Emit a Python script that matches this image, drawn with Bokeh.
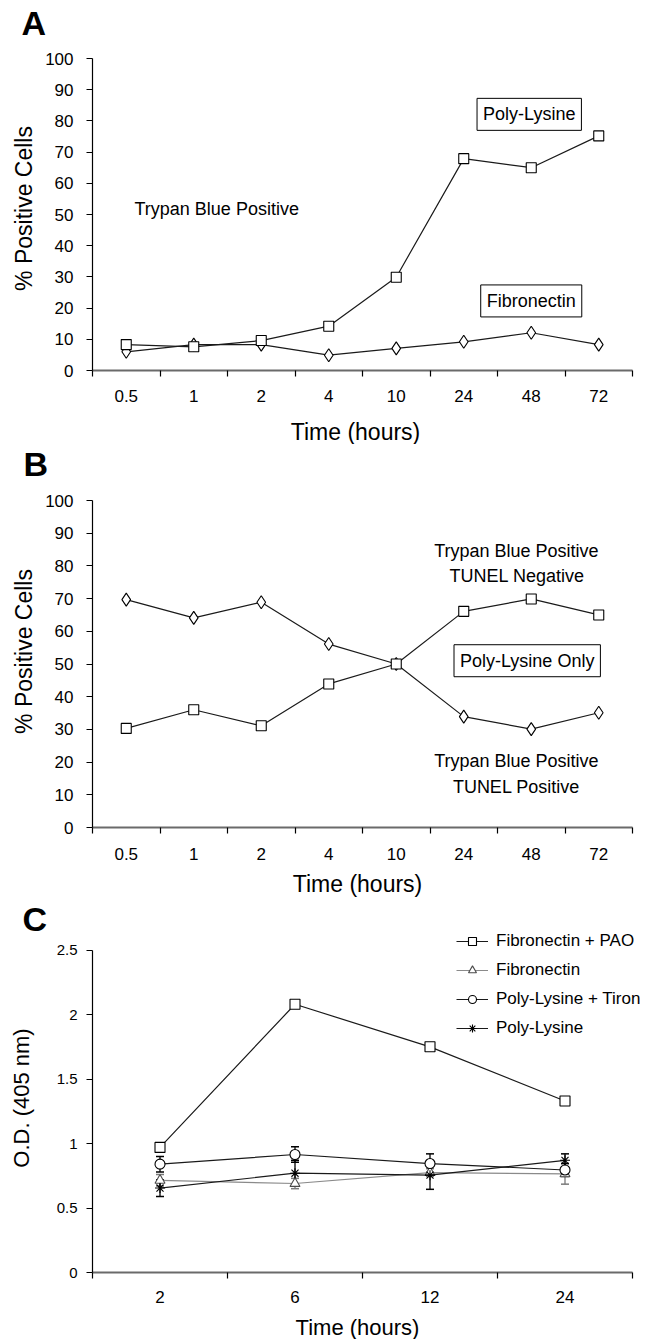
import math
from bokeh.plotting import figure
from bokeh.layouts import column
from bokeh.models import Range1d, FixedTicker, Label, Legend, LegendItem
from bokeh.embed import file_html
from bokeh.resources import INLINE

FONT = "Liberation Sans"

# ---------------- data ----------------
time_ab = ["0.5", "1", "2", "4", "10", "24", "48", "72"]
yticks_ab = [0, 10, 20, 30, 40, 50, 60, 70, 80, 90, 100]

# Panel A
a_polylysine = [8.3, 7.6, 9.6, 14.2, 29.9, 67.9, 65.0, 75.2]
a_fibronectin = [6.0, 8.3, 8.3, 4.9, 7.1, 9.2, 12.1, 8.3]

# Panel B (Poly-Lysine only)
b_tunel_negative = [30.3, 36.0, 31.1, 43.9, 50.0, 66.1, 69.9, 65.0]   # squares
b_tunel_positive = [69.7, 64.1, 68.9, 56.1, 50.0, 33.9, 30.1, 35.1]   # diamonds

# Panel C
time_c = ["2", "6", "12", "24"]
yticks_c = [0, 0.5, 1, 1.5, 2, 2.5]
c_fn_pao = [0.97, 2.08, 1.75, 1.33]
c_fn = [0.715, 0.69, 0.775, 0.765]
c_fn_err = [0.045, 0.04, 0.03, 0.08]
c_pl_tiron = [0.84, 0.915, 0.845, 0.795]
c_pl_tiron_err = [0.06, 0.06, 0.075, 0.05]
c_pl = [0.655, 0.77, 0.755, 0.87]
c_pl_err = [0.065, 0.10, 0.11, 0.05]

W = 655          # figure width (page has no margin)
AXIS_X = 92      # pixel position of the y axis
AXIS_END = 632   # pixel position of the end of the x axis


def make_fig(ncat, ytop, ypix, zero_px, fig_h):
    """ytop: top tick value, ypix: pixels between 0 and ytop,
    zero_px: pixel row (from the figure top) of y = 0."""
    cat_px = (AXIS_END - AXIS_X) / ncat
    x0 = -AXIS_X / cat_px
    x1 = x0 + W / cat_px
    upp = ytop / ypix
    p = figure(frame_width=W, frame_height=fig_h,
               min_border_left=0, min_border_right=0,
               min_border_top=0, min_border_bottom=0,
               x_range=Range1d(x0, x1),
               y_range=Range1d(-(fig_h - zero_px) * upp, zero_px * upp),
               output_backend="svg", toolbar_location=None, tools="")
    p.outline_line_color = None
    p.grid.visible = False
    p.background_fill_color = "white"
    p.border_fill_color = "white"
    return p


def style_x(p, cats, lab_size, lab_std, title, title_size, tx, ty):
    ax = p.xaxis[0]
    n = len(cats)
    centers = [i + 0.5 for i in range(n)]
    ax.fixed_location = 0
    ax.bounds = (0, n)
    ax.ticker = FixedTicker(ticks=centers, minor_ticks=list(range(n + 1)))
    ax.major_label_overrides = {c: lab for c, lab in zip(centers, cats)}
    ax.major_tick_out = 0
    ax.major_tick_in = 0
    ax.minor_tick_out = 6
    ax.minor_tick_in = 0
    ax.minor_tick_line_color = "black"
    ax.minor_tick_line_width = 1.2
    ax.axis_line_color = "#6a6a6a"
    ax.axis_line_width = 2
    ax.major_label_text_font = FONT
    ax.major_label_text_font_size = lab_size
    ax.major_label_text_color = "black"
    ax.major_label_standoff = lab_std
    p.add_layout(Label(x=tx, y=ty, x_units="screen", y_units="screen", text=title,
                       text_font=FONT, text_font_size=title_size,
                       text_align="center", text_baseline="middle", text_color="black"))


def style_y(p, ticks, lab_size, lab_std, title, title_size, tx, ty):
    ax = p.yaxis[0]
    ax.fixed_location = 0
    ax.bounds = (ticks[0], ticks[-1])
    ax.ticker = FixedTicker(ticks=ticks)
    ax.major_tick_out = 6
    ax.major_tick_in = 0
    ax.minor_tick_line_color = None
    ax.major_tick_line_color = "black"
    ax.axis_line_color = "black"
    ax.axis_line_width = 1.2
    ax.major_label_text_font = FONT
    ax.major_label_text_font_size = lab_size
    ax.major_label_text_color = "black"
    ax.major_label_standoff = lab_std
    p.add_layout(Label(x=tx, y=ty, x_units="screen", y_units="screen", text=title,
                       angle=math.pi / 2, text_font=FONT, text_font_size=title_size,
                       text_align="center", text_baseline="middle", text_color="black"))


def letter(p, txt, x, y):
    p.add_layout(Label(x=x, y=y, x_units="screen", y_units="screen", text=txt,
                       text_font=FONT, text_font_size="34px", text_font_style="bold",
                       text_baseline="middle", text_align="left", text_color="black"))


def note(p, txt, x, y, box=False):
    kw = dict(x=x, y=y, text=txt, text_font=FONT, text_font_size="18px",
              text_align="center", text_baseline="middle", text_color="black")
    if box:
        kw.update(border_line_color="black", border_line_width=1,
                  background_fill_color="white", padding=6)
    p.add_layout(Label(**kw))


def series(p, xs, ys, marker, size, color="#1a1a1a", mcolor="black"):
    lr = p.line(xs, ys, line_color=color, line_width=1.2)
    mr = p.scatter(xs, ys, marker=marker, size=size, fill_color="white",
                   line_color=mcolor, line_width=1.1)
    return lr, mr


# ---------------- Panel A ----------------  (figure rows 0..444)
xa = [i + 0.5 for i in range(len(time_ab))]
pA = make_fig(len(time_ab), 100, 312, 370, 444)
style_x(pA, time_ab, "17px", 13, "Time (hours)", "23px", 355, 13)
style_y(pA, yticks_ab, "17px", 13, "% Positive Cells", "23px", 23, 236)
series(pA, xa, a_fibronectin, "diamond", 13)
series(pA, xa, a_polylysine, "square", 10)
letter(pA, "A", 21, 421.5)
note(pA, "Trypan Blue Positive", 1.84, 51.7)
note(pA, "Poly-Lysine", 6.47, 82.1, box=True)
note(pA, "Fibronectin", 6.50, 22.3, box=True)

# ---------------- Panel B ----------------  (figure rows 444..899)
pB = make_fig(len(time_ab), 100, 327, 383, 455)
style_x(pB, time_ab, "17px", 14, "Time (hours)", "23px", 357, 16)
style_y(pB, yticks_ab, "17px", 13, "% Positive Cells", "23px", 23, 248)
series(pB, xa, b_tunel_positive, "diamond", 13)
series(pB, xa, b_tunel_negative, "square", 10)
letter(pB, "B", 23, 436)
note(pB, "Trypan Blue Positive", 6.28, 84.7)
note(pB, "TUNEL Negative", 6.29, 77.0)
note(pB, "Poly-Lysine Only", 6.44, 51.0, box=True)
note(pB, "Trypan Blue Positive", 6.28, 20.4)
note(pB, "TUNEL Positive", 6.28, 12.5)

# ---------------- Panel C ----------------  (figure rows 899..1339)
xc = [i + 0.5 for i in range(len(time_c))]
pC = make_fig(len(time_c), 2.5, 322.4, 373, 440)
style_x(pC, time_c, "17px", 12, "Time (hours)", "22px", 357, 12)
style_y(pC, yticks_c, "15px", 9, "O.D. (405 nm)", "22px", 21, 241.5)

# error bars
for vals, errs, col in [(c_fn, c_fn_err, "#7a7a7a"),
                        (c_pl_tiron, c_pl_tiron_err, "black"),
                        (c_pl, c_pl_err, "black")]:
    lo = [v - e for v, e in zip(vals, errs)]
    hi = [v + e for v, e in zip(vals, errs)]
    pC.segment(xc, lo, xc, hi, line_color=col, line_width=1.3)
    pC.scatter(xc, lo, marker="dash", size=8, line_color=col, line_width=1.5)
    pC.scatter(xc, hi, marker="dash", size=8, line_color=col, line_width=1.5)

r_pao = series(pC, xc, c_fn_pao, "square", 10)
r_fn = series(pC, xc, c_fn, "triangle", 10, color="#8a8a8a", mcolor="#4a4a4a")
r_plt = series(pC, xc, c_pl_tiron, "circle", 10)
r_pl = series(pC, xc, c_pl, "asterisk", 10)
letter(pC, "C", 22, 420.5)

legend = Legend(items=[
    LegendItem(label="Fibronectin + PAO", renderers=list(r_pao)),
    LegendItem(label="Fibronectin", renderers=list(r_fn)),
    LegendItem(label="Poly-Lysine + Tiron", renderers=list(r_plt)),
    LegendItem(label="Poly-Lysine", renderers=list(r_pl)),
], location=(456, 301), glyph_width=32, glyph_height=20, label_height=20,
    label_standoff=8, spacing=9, padding=0, margin=0,
    border_line_color=None, background_fill_alpha=0,
    label_text_font=FONT, label_text_font_size="17px", label_text_color="black")
pC.add_layout(legend)

layout = column(pA, pB, pC)
open("out.html", "w").write(file_html(layout, INLINE))
